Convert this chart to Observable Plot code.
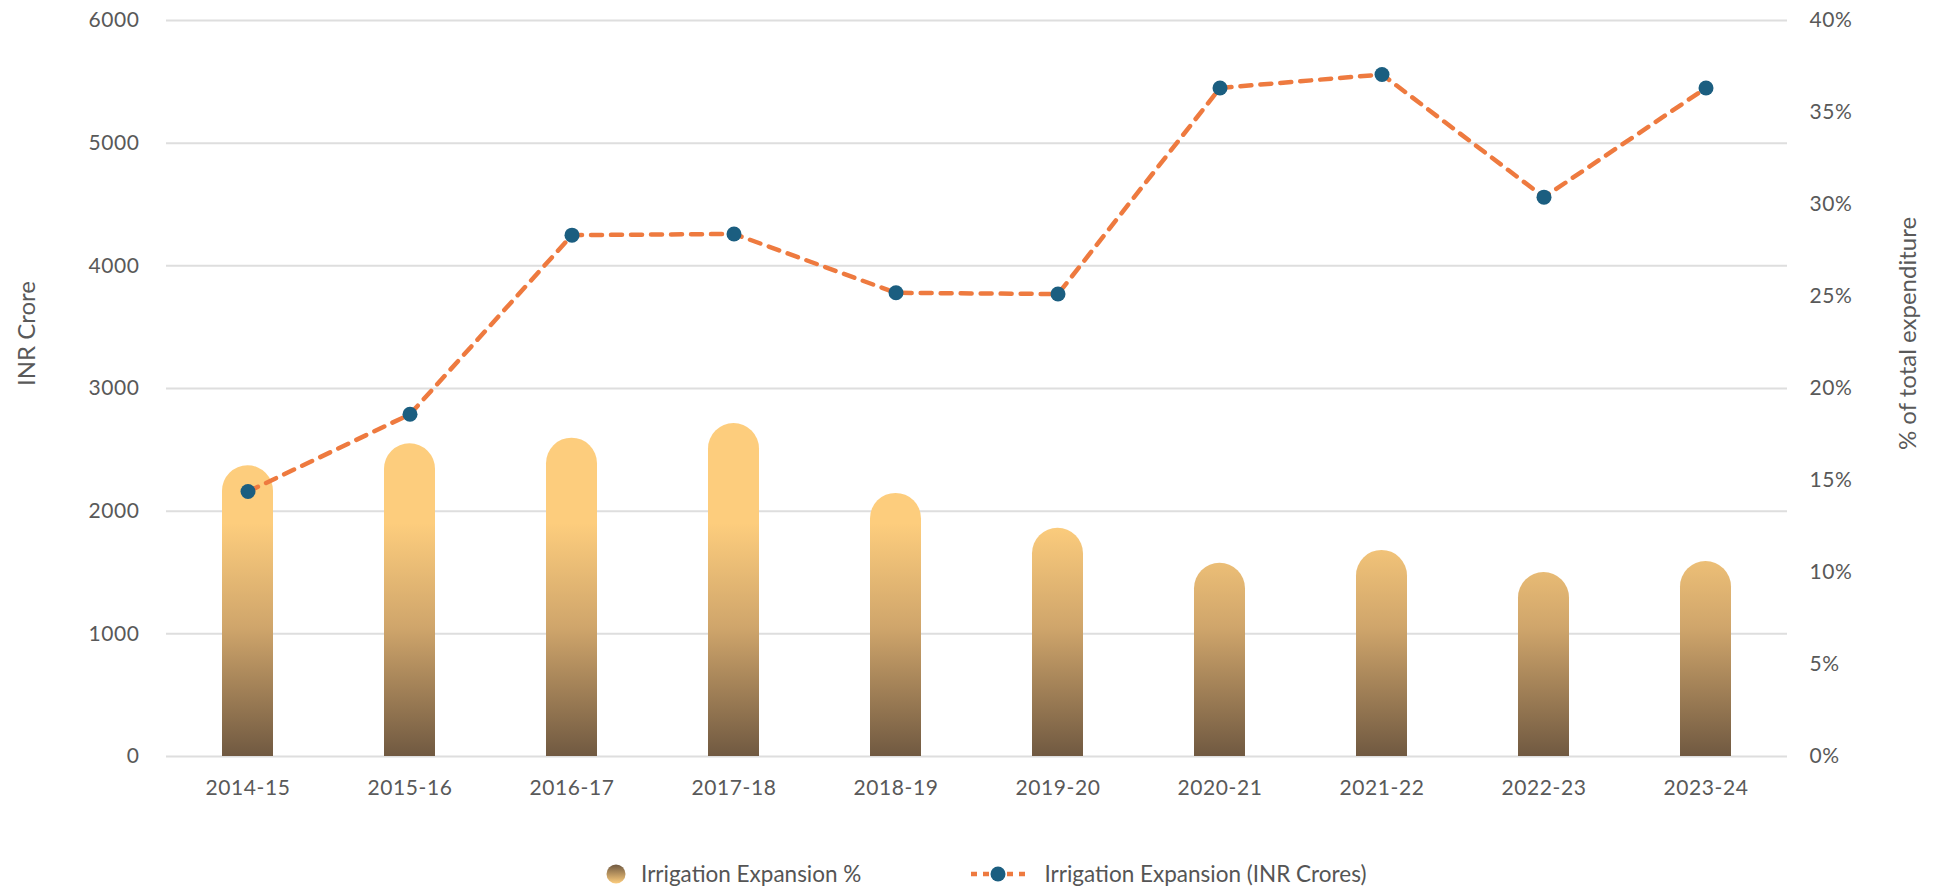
<!DOCTYPE html>
<html>
<head>
<meta charset="utf-8">
<script src="https://cdn.jsdelivr.net/npm/d3@7"></script>
<script src="https://cdn.jsdelivr.net/npm/@observablehq/plot@0.6"></script>
<style>
  html, body { margin: 0; padding: 0; background: #fff; }
  #chart { width: 1937px; }
  .legend { display: flex; align-items: center; font-family: Lato, "Open Sans", sans-serif; font-size: 22.5px; line-height: 1; color: #555; height: 36px; margin-top: 16px; }
  .legend .item { display: flex; align-items: center; }
  .legend svg { display: block; }
  #chart svg [aria-label^="y-axis tick label"] text, #chart svg [aria-label^="x-axis tick label"] text { letter-spacing: 0.6px; }
</style>
</head>
<body>
<div id="chart"></div>
<script>
const years = ["2014-15","2015-16","2016-17","2017-18","2018-19","2019-20","2020-21","2021-22","2022-23","2023-24"];
const inrCrores = [2160, 2790, 4250, 4260, 3780, 3770, 5450, 5560, 4560, 5450];
const expansionPct = [15.8, 17.0, 17.3, 18.1, 14.3, 12.4, 10.5, 11.2, 10.0, 10.6];
const leftTicks = [0, 1000, 2000, 3000, 4000, 5000, 6000];
const rightTicks = [0, 5, 10, 15, 20, 25, 30, 35, 40];
const seriesNames = ["Irrigation Expansion %", "Irrigation Expansion (INR Crores)"];
const axisTitles = ["INR Crore", "% of total expenditure"];

const leftMax = 6000, rightMax = 40;
const pctToLeft = p => p * leftMax / rightMax;

const rows = years.map((year, i) => ({ year, inr: inrCrores[i], pct: expansionPct[i], pctY: pctToLeft(expansionPct[i]) }));

const textColor = "#595959";
const font = "Lato, 'Open Sans', sans-serif";

const plot = Plot.plot({
  width: 1937,
  height: 840,
  marginLeft: 166,
  marginRight: 150,
  marginTop: 20,
  marginBottom: 84,
  style: { fontFamily: font, fontSize: "20px", color: textColor, background: "#fff", overflow: "visible" },
  x: { domain: years, paddingInner: 0.685, paddingOuter: 0.3425, label: null },
  y: { domain: [0, leftMax], label: null },
  marks: [
    Plot.gridY(leftTicks, { stroke: "#dedede", strokeOpacity: 1, strokeWidth: 2 }),
    Plot.axisY(leftTicks, { anchor: "left", tickSize: 0, tickPadding: 27, label: null, fontSize: 21, tickFormat: d => String(d) }),
    Plot.axisY(rightTicks.map(pctToLeft), { anchor: "right", tickSize: 0, tickPadding: 22, label: null, fontSize: 21, tickFormat: d => Math.round(d * rightMax / leftMax) + "%" }),
    Plot.axisX({ tickSize: 0, tickPadding: 24, label: null, fontSize: 21 }),
    Plot.barY(rows, { x: "year", y: "pctY", fill: "url(#barGrad)", rx: 25.5, ry: 25.5 }),
    Plot.barY(rows, { x: "year", y: "pctY", fill: "url(#barGrad)", insetTop: 26 }),
    Plot.line(rows, { x: "year", y: "inr", stroke: "#EE7A3F", strokeWidth: 4.5, strokeDasharray: "11 9" }),
    Plot.dot(rows, { x: "year", y: "inr", r: 7.5, fill: "#1B5E80", stroke: "none" }),
    Plot.text([axisTitles[0]], { frameAnchor: "left", textAnchor: "middle", rotate: -90, dx: -139, dy: -55, fontSize: 24, fill: textColor }),
    Plot.text([axisTitles[1]], { frameAnchor: "right", textAnchor: "middle", rotate: -90, dx: 121, dy: -55, fontSize: 24, fill: textColor })
  ]
});

// gradient in user space: solid yellow above ~1900 on left scale, brown at the base
const yScale = plot.scale("y");
const gTop = yScale.apply(1900), gBot = yScale.apply(0);
const svgSel = d3.select(plot);
const defs = svgSel.insert("defs", ":first-child");
const grad = defs.append("linearGradient").attr("id", "barGrad").attr("gradientUnits", "userSpaceOnUse")
  .attr("x1", 0).attr("x2", 0).attr("y1", gTop).attr("y2", gBot);
grad.append("stop").attr("offset", "0%").attr("stop-color", "#FDCD7D");
grad.append("stop").attr("offset", "45%").attr("stop-color", "#CFA56B");
grad.append("stop").attr("offset", "100%").attr("stop-color", "#705941");

document.getElementById("chart").appendChild(plot);

// legend
const legend = d3.select("#chart").append("div").attr("class", "legend");
legend.style("padding-left", "605px");
const it1 = legend.append("div").attr("class", "item");
const s1 = it1.append("svg").attr("width", 22).attr("height", 22);
const lg = s1.append("defs").append("linearGradient").attr("id", "legGrad").attr("x1", 0).attr("x2", 0).attr("y1", 0).attr("y2", 1);
lg.append("stop").attr("offset", "0%").attr("stop-color", "#705941");
lg.append("stop").attr("offset", "100%").attr("stop-color", "#FDCD7D");
s1.append("circle").attr("cx", 11).attr("cy", 11).attr("r", 9.5).attr("fill", "url(#legGrad)");
it1.append("span").style("margin-left", "14px").text(seriesNames[0]);

const it2 = legend.append("div").attr("class", "item").style("margin-left", "108px");
const s2 = it2.append("svg").attr("width", 58).attr("height", 22);
s2.append("line").attr("x1", 2).attr("x2", 56).attr("y1", 11).attr("y2", 11).attr("stroke", "#EE7A3F").attr("stroke-width", 4.5).attr("stroke-dasharray", "6 6");
s2.append("circle").attr("cx", 29).attr("cy", 11).attr("r", 7.5).attr("fill", "#1B5E80");
it2.append("span").style("margin-left", "17px").text(seriesNames[1]);
</script>
</body>
</html>
